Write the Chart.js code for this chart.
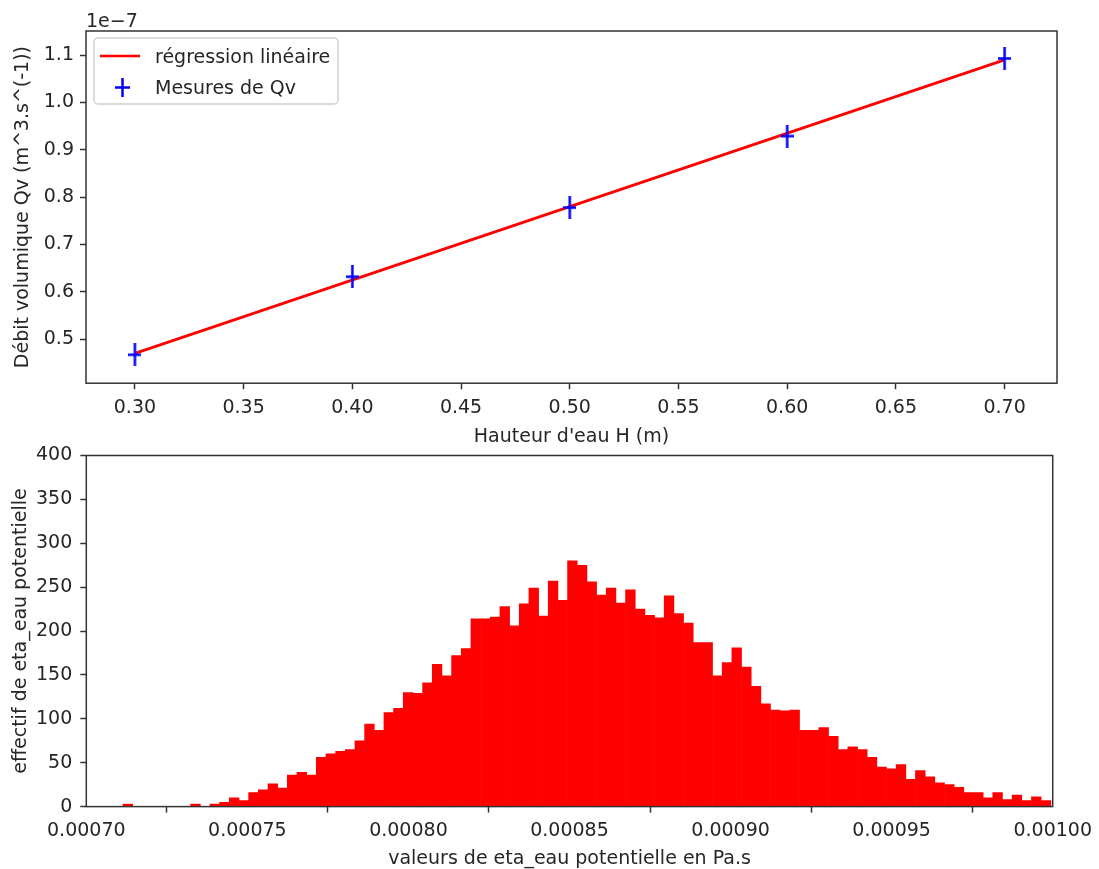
<!DOCTYPE html>
<html>
<head>
<meta charset="utf-8">
<script src="https://cdn.jsdelivr.net/npm/chart.js@4.4.0/dist/chart.umd.min.js"></script>
<style>
  html, body { margin: 0; padding: 0; background: #fff; overflow: hidden; }
  #wrap { position: relative; width: 1099px; height: 869px; }
  #topChart { position: absolute; left: 0; top: 0; }
  #histChart { position: absolute; left: 0; top: 430px; }
</style>
</head>
<body>
<div id="wrap">
  <canvas id="topChart" width="1099" height="470"></canvas>
  <canvas id="histChart" width="1099" height="439"></canvas>
</div>
<script>
// Top plot: water height vs volume flow
const hauteur = [0.30, 0.40, 0.50, 0.60, 0.70];
const qvMesures = [0.467e-7, 0.632e-7, 0.778e-7, 0.929e-7, 1.093e-7];
const regHauteur = [0.30, 0.70];
const regQv = [0.470e-7, 1.090e-7];
const topXTicks = [0.30, 0.35, 0.40, 0.45, 0.50, 0.55, 0.60, 0.65, 0.70];
const topYTicks = [0.5e-7, 0.6e-7, 0.7e-7, 0.8e-7, 0.9e-7, 1.0e-7, 1.1e-7];

// Bottom plot: histogram of eta_eau
const histStart = 0.0007114;
const histWidth = 3.0e-6;
const histCounts = [
  3, 0, 0, 0, 0, 0, 0, 3, 0, 3,
  5, 10, 7, 16, 19, 26, 21, 36, 39, 36,
  56, 60, 63, 65, 75, 94, 87, 107, 112, 130,
  129, 141, 162, 149, 172, 180, 214, 214, 216, 228,
  206, 231, 249, 217, 257, 235, 280, 275, 256, 241,
  249, 232, 247, 225, 218, 215, 240, 220, 209, 187,
  187, 149, 164, 181, 159, 137, 117, 110, 109, 110,
  87, 87, 90, 80, 65, 68, 65, 56, 45, 43,
  48, 31, 41, 34, 27, 25, 22, 16, 16, 10,
  16, 8, 13, 7, 11, 7
];
const histXTicks = [0.00070, 0.00075, 0.00080, 0.00085, 0.00090, 0.00095, 0.00100];
const histYTicks = [0, 50, 100, 150, 200, 250, 300, 350, 400];

Chart.defaults.font.family = '"DejaVu Sans", sans-serif';
Chart.defaults.font.size = 19;
Chart.defaults.color = '#262626';

// plus marker (taller because of the error bar)
function makeCross(w, h, lw, color) {
  const c = document.createElement('canvas');
  c.width = w;
  c.height = h;
  const g = c.getContext('2d');
  g.strokeStyle = color;
  g.lineWidth = lw;
  g.beginPath();
  g.moveTo(w / 2, 0);
  g.lineTo(w / 2, h);
  g.moveTo(0, h / 2);
  g.lineTo(w, h / 2);
  g.stroke();
  return c;
}

// axes box like matplotlib spines
const framePlugin = {
  id: 'frame',
  afterDraw(chart) {
    const a = chart.chartArea;
    const ctx = chart.ctx;
    ctx.save();
    ctx.strokeStyle = '#333';
    ctx.lineWidth = 1.5;
    ctx.strokeRect(a.left, a.top, a.right - a.left, a.bottom - a.top);
    ctx.restore();
  }
};

// legend box inside the axes + offset text
const topExtras = {
  id: 'topExtras',
  afterDraw(chart) {
    const ctx = chart.ctx;
    const a = chart.chartArea;
    ctx.save();
    // offset text
    ctx.fillStyle = '#262626';
    ctx.font = '19px "DejaVu Sans"';
    ctx.textBaseline = 'alphabetic';
    ctx.fillText('1e\u22127', a.left, 27);

    // legend frame
    const x0 = a.left + 8, y0 = a.top + 7, w = 244, h = 66;
    ctx.beginPath();
    ctx.roundRect(x0, y0, w, h, 4);
    ctx.fillStyle = 'rgba(255,255,255,0.8)';
    ctx.fill();
    ctx.strokeStyle = '#d0d0d0';
    ctx.lineWidth = 1.5;
    ctx.stroke();

    // line entry
    ctx.strokeStyle = '#ff0000';
    ctx.lineWidth = 2.7;
    ctx.beginPath();
    ctx.moveTo(x0 + 6, y0 + 18);
    ctx.lineTo(x0 + 46, y0 + 18);
    ctx.stroke();

    // marker entry
    ctx.strokeStyle = '#0000ff';
    ctx.lineWidth = 2.5;
    ctx.beginPath();
    ctx.moveTo(x0 + 28.5, y0 + 40);
    ctx.lineTo(x0 + 28.5, y0 + 59);
    ctx.moveTo(x0 + 21, y0 + 49.5);
    ctx.lineTo(x0 + 36, y0 + 49.5);
    ctx.stroke();

    ctx.fillStyle = '#262626';
    ctx.fillText('r\u00e9gression lin\u00e9aire', x0 + 61, y0 + 25);
    ctx.fillText('Mesures de Qv', x0 + 61, y0 + 56);
    ctx.restore();
  }
};

const tickGrid = {
  drawOnChartArea: false,
  drawTicks: true,
  tickLength: 6,
  tickWidth: 1.5,
  tickColor: '#333'
};

new Chart(document.getElementById('topChart'), {
  type: 'scatter',
  data: {
    datasets: [
      {
        label: 'Mesures de Qv',
        data: hauteur.map((h, i) => ({ x: h, y: qvMesures[i] })),
        pointStyle: makeCross(13, 23, 2.5, '#0000ff'),
        pointRadius: 8,
        order: 1
      },
      {
        label: 'régression linéaire',
        data: regHauteur.map((h, i) => ({ x: h, y: regQv[i] })),
        showLine: true,
        borderColor: '#ff0000',
        borderWidth: 2.7,
        pointRadius: 0,
        order: 2
      }
    ]
  },
  options: {
    responsive: false,
    animation: false,
    events: [],
    layout: { padding: { top: 31, right: 42, bottom: 22, left: 0 } },
    plugins: { legend: { display: false }, tooltip: { enabled: false } },
    scales: {
      x: {
        type: 'linear',
        min: 0.2775,
        max: 0.7241,
        afterBuildTicks: (s) => { s.ticks = topXTicks.map(v => ({ value: v })); },
        afterFit: (s) => { s.height = 64.8; },
        ticks: { autoSkip: false, maxRotation: 0, padding: 7, callback: (v) => v.toFixed(2) },
        grid: tickGrid,
        border: { display: false },
        title: { display: true, text: "Hauteur d'eau H (m)", padding: { top: 0, bottom: 0 } }
      },
      y: {
        type: 'linear',
        min: 0.407e-7,
        max: 1.151e-7,
        afterBuildTicks: (s) => { s.ticks = topYTicks.map(v => ({ value: v })); },
        afterFit: (s) => { s.width = 86; },
        ticks: { padding: 6, callback: (v) => (v / 1e-7).toFixed(1) },
        grid: tickGrid,
        border: { display: false },
        title: { display: true, text: 'Débit volumique Qv (m^3.s^(-1))', padding: { top: 12, bottom: 0 } }
      }
    }
  },
  plugins: [framePlugin, topExtras]
});

new Chart(document.getElementById('histChart'), {
  type: 'bar',
  data: {
    datasets: [{
      label: 'eta_eau',
      data: histCounts.map((c, i) => ({ x: histStart + histWidth * (i + 0.5), y: c })),
      backgroundColor: '#ff0000',
      borderWidth: 0,
      barPercentage: 1,
      categoryPercentage: 1
    }]
  },
  options: {
    responsive: false,
    animation: false,
    events: [],
    layout: { padding: { top: 25.5, right: 42.6, bottom: 0, left: 0 } },
    plugins: { legend: { display: false }, tooltip: { enabled: false } },
    scales: {
      x: {
        type: 'linear',
        offset: false,
        min: 0.0007,
        max: 0.001,
        afterBuildTicks: (s) => { s.ticks = histXTicks.map(v => ({ value: v })); },
        afterFit: (s) => { s.height = 62.4; },
        ticks: { autoSkip: false, maxRotation: 0, padding: 7, callback: (v) => v.toFixed(5) },
        grid: tickGrid,
        border: { display: false },
        title: {
          display: true,
          text: 'valeurs de eta_eau potentielle en Pa.s',
          font: { size: 19, lineHeight: 1 },
          padding: { top: 0, bottom: 0 }
        }
      },
      y: {
        type: 'linear',
        min: 0,
        max: 400,
        afterBuildTicks: (s) => { s.ticks = histYTicks.map(v => ({ value: v })); },
        afterFit: (s) => { s.width = 86.3; },
        ticks: { padding: 8, callback: (v) => String(v) },
        grid: tickGrid,
        border: { display: false },
        title: { display: true, text: 'effectif de eta_eau potentielle', padding: { top: 10, bottom: 0 } }
      }
    }
  },
  plugins: [framePlugin]
});
</script>
</body>
</html>
